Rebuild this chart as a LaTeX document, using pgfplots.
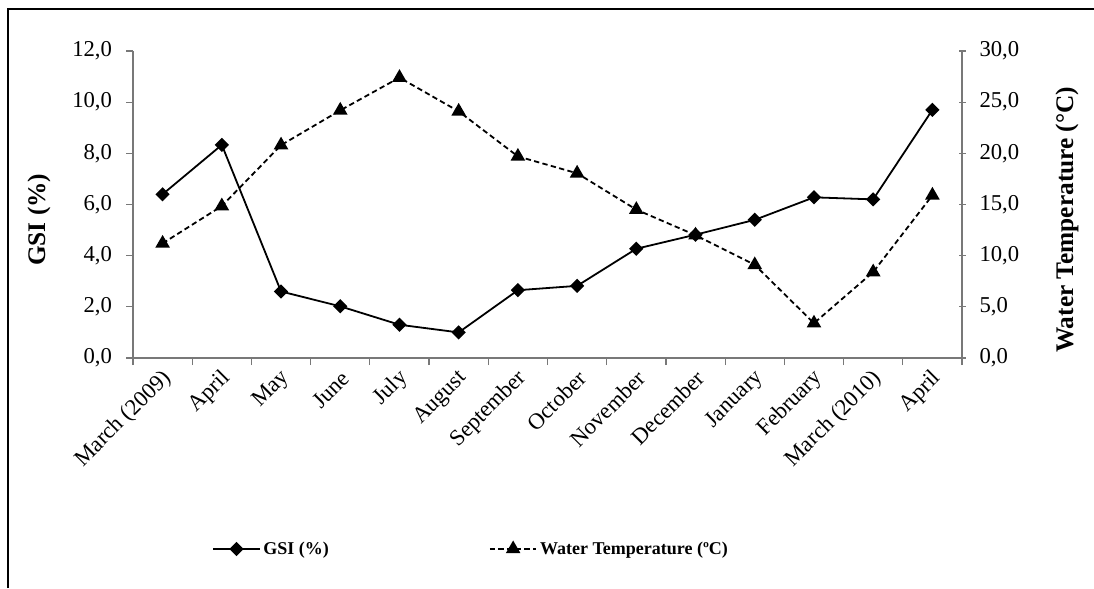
\documentclass[border=0pt]{standalone}
\usepackage{fontspec}
\setmainfont{Liberation Serif}
\usepackage{pgfplots}
\pgfplotsset{compat=1.18}
\definecolor{axgray}{RGB}{120,120,120}
\begin{document}
\begin{tikzpicture}
\useasboundingbox (-99.75pt,-172.5pt) rectangle (720.75pt,268.5pt);
\pgfplotsset{
  common/.style={
    scale only axis, width=621.75pt, height=230.25pt,
    xmin=-0.5, xmax=13.5,
    tick label style={font=\fontsize{17}{20}\selectfont},
    /pgf/number format/.cd, fixed, fixed zerofill, precision=1, use comma, assume math mode=true, /pgfplots/.cd,
    axis line style={draw=axgray, line width=0.9pt, -},
    tick style={draw=axgray, line width=0.9pt},
    major tick length=5.25pt, minor tick length=5.25pt,
  }
}
\begin{axis}[common,
  ymin=0, ymax=12, ytick={0,2,...,12},
  axis y line*=left, axis x line*=bottom,
  tick align=outside,
  xtick={0,...,13},
  xticklabels={March (2009),April,May,June,July,August,September,October,November,December,January,February,March (2010),April},
  major x tick style={draw=none},
  minor xtick={-0.5,0.5,...,13.5},
  xticklabel style={rotate=45, anchor=east, yshift=-8pt, xshift=1pt},
  yticklabel style={xshift=-7pt},
  ylabel={GSI (\%)},
  every axis y label/.style={at={(axis description cs:-0.1134,0.45)}, rotate=90, anchor=center, font=\bfseries\fontsize{19}{22}\selectfont},
]
\addplot[black, line width=1.35pt, mark=square*, mark size=3.1pt, mark options={rotate=45, solid}] coordinates {
(0,6.4) (1,8.33) (2,2.6) (3,2.02) (4,1.3) (5,1.0) (6,2.65) (7,2.82) (8,4.27) (9,4.82) (10,5.4) (11,6.28) (12,6.2) (13,9.7)
};
\end{axis}
\begin{axis}[common,
  ymin=0, ymax=30, ytick={0,5,...,30},
  axis y line*=right, axis x line=none,
  tick align=center,
  yticklabel style={xshift=7pt},
  ylabel={Water Temperature (°C)},
  every axis y label/.style={at={(axis description cs:1.1267,0.45)}, rotate=90, anchor=center, font=\bfseries\fontsize{19}{22}\selectfont},
  legend image code/.code={\draw[mark repeat=2, mark phase=2, #1] plot coordinates {(0pt,0pt) (17.5pt,0pt) (35pt,0pt)};},
  legend style={draw=none, fill=none, legend columns=2, at={(axis description cs:0.0953,-0.622)}, anchor=west, inner sep=0pt,
    font=\bfseries\fontsize{13.5}{16}\selectfont,
    /tikz/every even column/.append style={column sep=118pt}},
]
\addlegendimage{black, line width=1.35pt, mark=square*, mark size=3.1pt, mark options={rotate=45, solid}}
\addlegendentry{GSI (\%)}
\addplot[black, line width=1.35pt, dash pattern=on 4pt off 2.5pt, mark=triangle*, mark size=5pt, mark options={solid}] coordinates {
(0,11.2) (1,14.85) (2,20.8) (3,24.2) (4,27.4) (5,24.1) (6,19.7) (7,18.05) (8,14.5) (9,12.0) (10,9.1) (11,3.4) (12,8.4) (13,15.9)
};
\addlegendentry{Water Temperature (ºC)}
\end{axis}
\draw[line width=1.6pt] (-93.75pt,-172.5pt) -- (-93.75pt,261.75pt) -- (720.75pt,261.75pt);
\end{tikzpicture}
\end{document}
